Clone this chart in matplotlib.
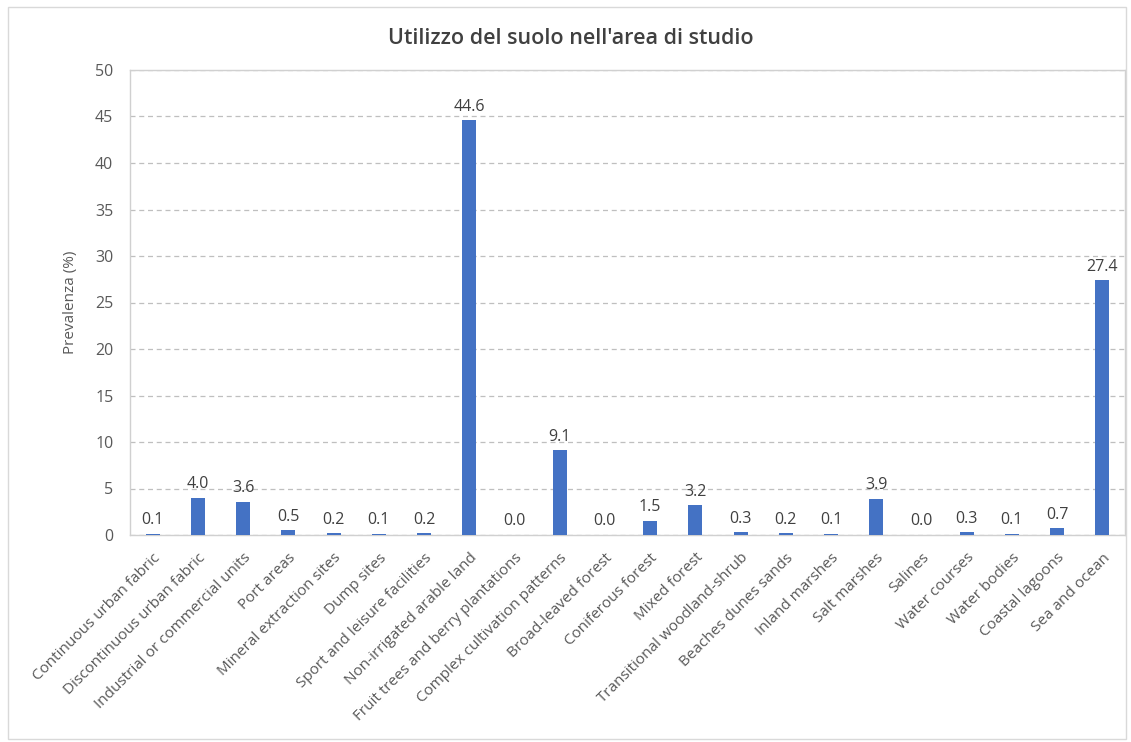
import numpy as np
import matplotlib.pyplot as plt
from matplotlib.patches import Rectangle

# DATA
categories = [
    "Continuous urban fabric", "Discontinuous urban fabric",
    "Industrial or commercial units", "Port areas",
    "Mineral extraction sites", "Dump sites",
    "Sport and leisure facilities", "Non-irrigated arable land",
    "Fruit trees and berry plantations", "Complex cultivation patterns",
    "Broad-leaved forest", "Coniferous forest", "Mixed forest",
    "Transitional woodland-shrub", "Beaches dunes sands", "Inland marshes",
    "Salt marshes", "Salines", "Water courses", "Water bodies",
    "Coastal lagoons", "Sea and ocean",
]
prevalence = [0.1, 4.0, 3.6, 0.5, 0.2, 0.1, 0.2, 44.6, 0.0, 9.1, 0.0,
              1.5, 3.2, 0.3, 0.2, 0.1, 3.9, 0.0, 0.3, 0.1, 0.7, 27.4]
y_ticks = list(range(0, 51, 5))

BAR_COLOR = "#4472C4"
TEXT_COLOR = "#595959"
plt.rcParams["font.family"] = ["Open Sans", "DejaVu Sans"]

fig = plt.figure(figsize=(11.31, 7.42), dpi=100)
ax = fig.add_axes([130 / 1131, 1 - 535 / 742, 995 / 1131, 465 / 742])

x = np.arange(len(categories))
ax.bar(x, prevalence, width=0.31, color=BAR_COLOR, zorder=3)
for xi, v in zip(x, prevalence):
    ax.text(xi, v + 0.6, f"{v:.1f}", ha="center", va="bottom",
            fontsize=11.5, color="#404040")

ax.set_xlim(-0.5, len(categories) - 0.5)
ax.set_ylim(0, 50)
ax.set_yticks(y_ticks)
ax.tick_params(axis="y", length=0, labelsize=11.5, labelcolor=TEXT_COLOR, pad=12)
ax.set_xticks(x)
ax.set_xticklabels(categories, rotation=45, ha="right", rotation_mode="anchor",
                   fontsize=11, color=TEXT_COLOR)
ax.tick_params(axis="x", length=0, pad=11)
ax.grid(axis="y", linestyle=(0, (4, 3)), color="#BFBFBF", linewidth=0.9, zorder=0)
for s in ax.spines.values():
    s.set_color("#D0D0D0")
    s.set_linewidth(1.0)

ax.set_ylabel("Prevalenza (%)", fontsize=11, color=TEXT_COLOR, labelpad=12)
fig.text(571 / 1131, 1 - 38 / 742, "Utilizzo del suolo nell'area di studio",
         ha="center", va="center", fontsize=15.5, fontweight="semibold",
         color="#404040")

fig.patches.append(Rectangle((8 / 1131, 3 / 742), 1118 / 1131, 732 / 742,
                             transform=fig.transFigure, fill=False,
                             edgecolor="#D9D9D9", linewidth=1.0))

fig.savefig("out.png", dpi=100)
